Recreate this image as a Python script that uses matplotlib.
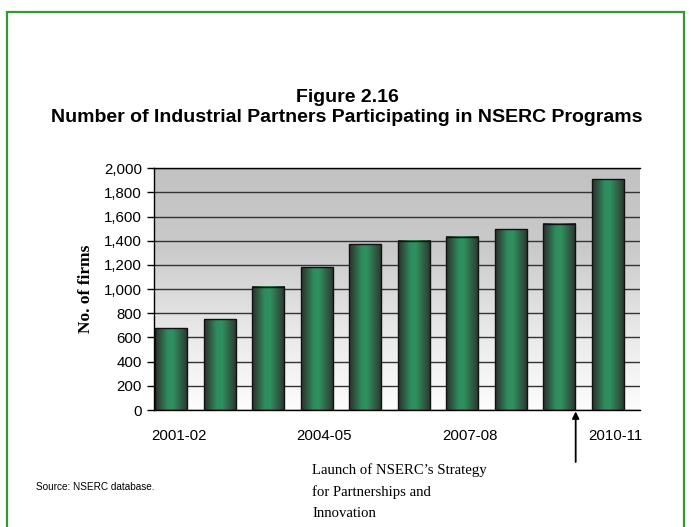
import matplotlib
matplotlib.use("Agg")
import matplotlib.pyplot as plt
import numpy as np
from matplotlib.colors import LinearSegmentedColormap
from matplotlib.patches import Rectangle
from matplotlib.ticker import FuncFormatter, MultipleLocator

years = ["2001-02", "2002-03", "2003-04", "2004-05", "2005-06",
         "2006-07", "2007-08", "2008-09", "2009-10", "2010-11"]
firms = [678, 752, 1020, 1180, 1370, 1400, 1432, 1494, 1543, 1908]
shown_labels = ["2001-02", "2004-05", "2007-08", "2010-11"]

W, H = 691, 527
fig = plt.figure(figsize=(W / 100, H / 100), dpi=100)
fig.patch.set_facecolor("white")

# green frame
fig.add_artist(Rectangle((7 / W, -0.1), (684 - 7) / W, 1.1 - 12 / H,
                         transform=fig.transFigure, fill=False,
                         edgecolor="#339933", linewidth=1.6))

ax = fig.add_axes([154.3 / W, 1 - 410 / H, (640 - 154.3) / W, (410 - 168.3) / H])
x = np.arange(len(years))
bw = 0.66
ax.set_xlim(-0.345, 9.66)
ax.set_ylim(0, 2000)

# background gradient
bg = LinearSegmentedColormap.from_list("bg", ["#fdfdfd", "#e8e8e8", "#cacaca", "#c2c2c2"])
grad = np.linspace(0, 1, 256).reshape(-1, 1)
ax.imshow(grad, cmap=bg, aspect="auto", origin="lower",
          extent=(-0.345, 9.66, 0, 2000), zorder=0)

# gridlines
ax.yaxis.set_major_locator(MultipleLocator(200))
ax.grid(axis="y", color="#333333", linewidth=1.0, zorder=1)
ax.set_axisbelow(True)

# bars with cylindrical gradient
barcm = LinearSegmentedColormap.from_list(
    "bar", [(0.0, "#2b332e"), (0.12, "#2f4a3a"), (0.38, "#2e8c5e"),
            (0.55, "#2e9060"), (0.8, "#2f5e44"), (1.0, "#2b332e")])
hgrad = np.linspace(0, 1, 128).reshape(1, -1)
bars = ax.bar(x, firms, width=bw, facecolor="none", edgecolor="#111111",
              linewidth=1.0, zorder=3)
for b in bars:
    x0 = b.get_x()
    ax.imshow(hgrad, cmap=barcm, aspect="auto",
              extent=(x0, x0 + b.get_width(), 0, b.get_height()), zorder=2)
ax.set_xlim(-0.345, 9.66)
ax.set_ylim(0, 2000)

# spines
for s in ["left", "bottom", "top"]:
    ax.spines[s].set_color("black")
    ax.spines[s].set_linewidth(1.0)
ax.spines["right"].set_visible(False)

# ticks
ax.yaxis.set_major_formatter(FuncFormatter(lambda v, p: f"{int(v):,}"))
ax.tick_params(axis="y", length=5, width=1, pad=4, labelsize=10.8,
               labelfontfamily="Liberation Sans")
label_idx = [years.index(l) for l in shown_labels]
ax.set_xticks([i + 0.16 for i in label_idx])
ax.set_xticklabels(shown_labels, fontfamily="Liberation Sans", fontsize=10.8)
ax.tick_params(axis="x", length=0, pad=14)

ax.set_ylabel("No. of firms", fontfamily="Liberation Serif", fontweight="bold",
              fontsize=12.5, labelpad=7)

# title
fig.text(347 / W, 1 - 98 / H, "Figure 2.16", ha="center", va="center",
         fontfamily="Liberation Sans", fontweight="bold", fontsize=14)
fig.text(347 / W, 1 - 118 / H,
         "Number of Industrial Partners Participating in NSERC Programs",
         ha="center", va="center", fontfamily="Liberation Sans",
         fontweight="bold", fontsize=14)

# arrow annotation
ax.annotate("", xy=(8.335, 0), xycoords="data",
            xytext=(8.335, 1 - 462 / H), textcoords=("data", "figure fraction"),
            arrowprops=dict(arrowstyle="-|>", color="black", lw=1.3,
                            mutation_scale=10, shrinkA=0, shrinkB=1),
            annotation_clip=False)
fig.text(312 / W, 1 - 463 / H,
         "Launch of NSERC\u2019s Strategy\nfor Partnerships and\nInnovation",
         ha="left", va="top", fontfamily="Liberation Serif", fontsize=10.6,
         linespacing=1.78)

fig.text(36 / W, 1 - 487 / H, "Source: NSERC database.", ha="left", va="center",
         fontfamily="Liberation Sans", fontsize=7.2)

fig.savefig("out.png", dpi=100)
